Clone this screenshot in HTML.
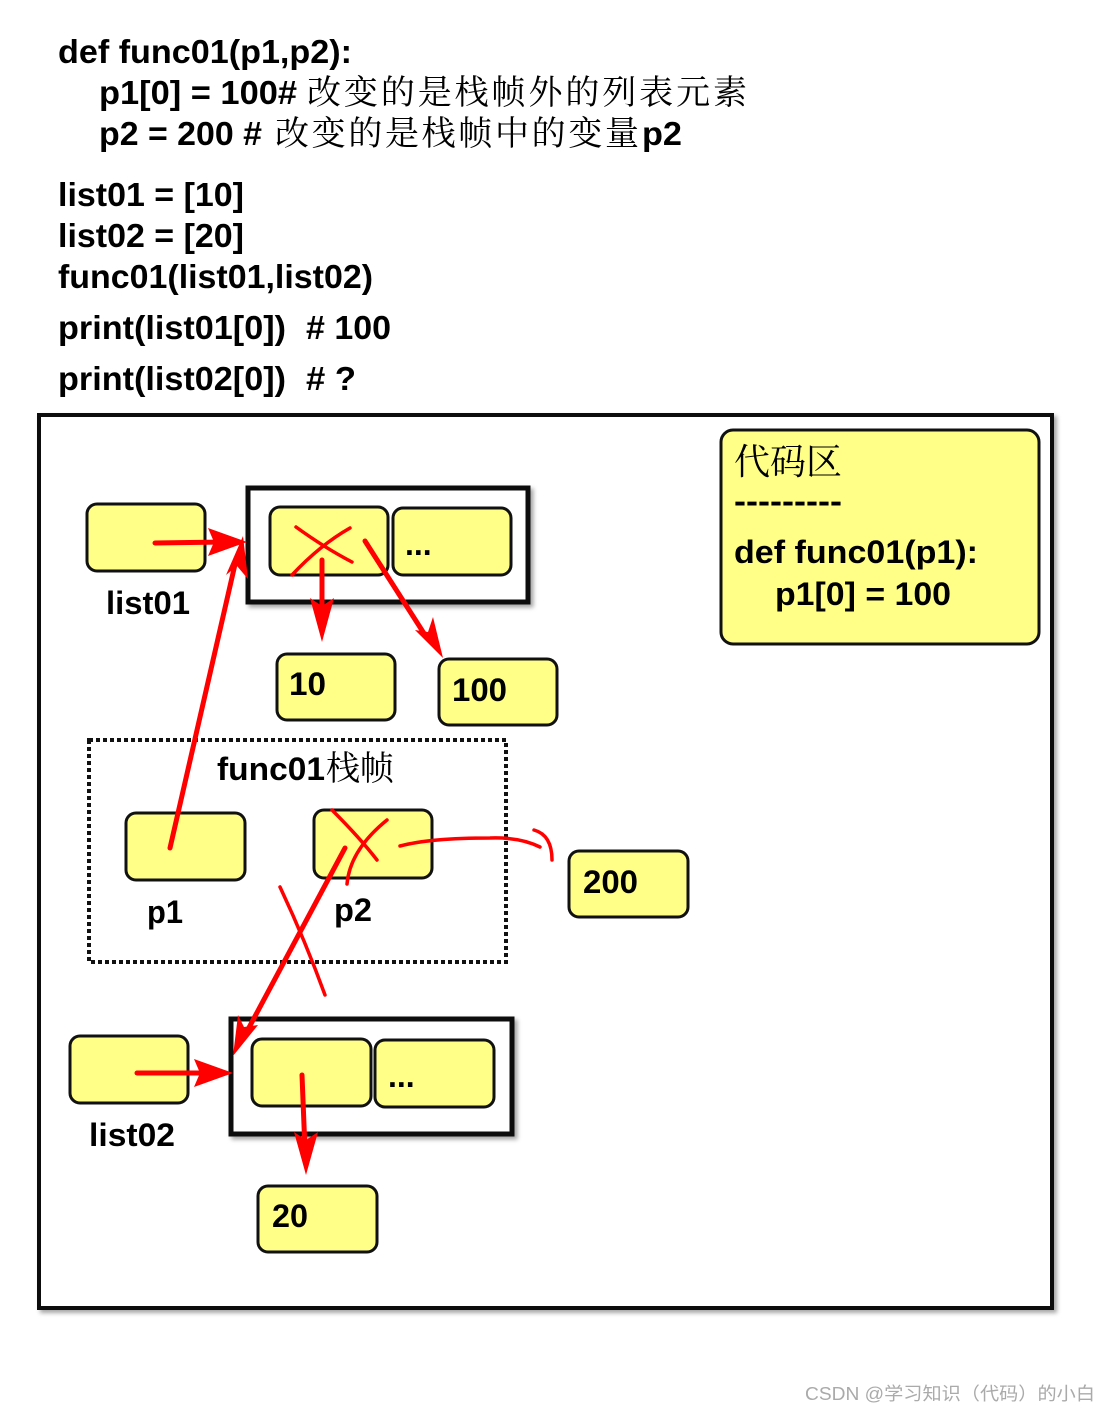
<!DOCTYPE html>
<html><head><meta charset="utf-8"><style>
html,body{margin:0;padding:0;background:#fff;}
svg{display:block;}
.b{font-family:"Liberation Sans",sans-serif;font-weight:bold;fill:#000;}
.c{font-family:"Liberation Serif","Noto Serif CJK SC",serif;font-weight:normal;fill:#000;}
</style></head><body>
<svg width="1109" height="1413" viewBox="0 0 1109 1413" xmlns="http://www.w3.org/2000/svg">
<defs>
<filter id="sh" x="-10%" y="-10%" width="130%" height="130%"><feDropShadow dx="3" dy="3" stdDeviation="2" flood-color="#000" flood-opacity="0.35"/></filter>
</defs>
<g font-size="33">
<text class="b" x="58" y="63" textLength="294" lengthAdjust="spacingAndGlyphs">def func01(p1,p2):</text>
<text class="b" x="99" y="104" textLength="198" lengthAdjust="spacingAndGlyphs">p1[0] = 100#</text>
<text class="c" x="307" y="104" font-size="34" textLength="440" lengthAdjust="spacing">改变的是栈帧外的列表元素</text>
<text class="b" x="99" y="145" textLength="163" lengthAdjust="spacingAndGlyphs">p2 = 200 #</text>
<text class="c" x="275" y="145" font-size="34" textLength="364" lengthAdjust="spacing">改变的是栈帧中的变量</text>
<text class="b" x="642" y="145" textLength="40" lengthAdjust="spacingAndGlyphs">p2</text>
<text class="b" x="58" y="206" textLength="186" lengthAdjust="spacingAndGlyphs">list01 = [10]</text>
<text class="b" x="58" y="247" textLength="186" lengthAdjust="spacingAndGlyphs">list02 = [20]</text>
<text class="b" x="58" y="288" textLength="315" lengthAdjust="spacingAndGlyphs">func01(list01,list02)</text>
<text class="b" x="58" y="339" textLength="228" lengthAdjust="spacingAndGlyphs">print(list01[0])</text>
<text class="b" x="306" y="339" textLength="85" lengthAdjust="spacingAndGlyphs"># 100</text>
<text class="b" x="58" y="390" textLength="228" lengthAdjust="spacingAndGlyphs">print(list02[0])</text>
<text class="b" x="306" y="390" textLength="50" lengthAdjust="spacingAndGlyphs"># ?</text>
</g>
<rect x="39" y="415" width="1013" height="893" fill="#fff" stroke="#111" stroke-width="4" filter="url(#sh)"/>
<rect x="721" y="430" width="318" height="214" rx="12" fill="#ffff88" stroke="#111" stroke-width="3"/>
<text class="c" x="734" y="474" font-size="36">代码区</text>
<text class="b" x="734" y="512" font-size="32" textLength="108" lengthAdjust="spacingAndGlyphs">---------</text>
<text class="b" x="734" y="563" font-size="32" textLength="244" lengthAdjust="spacingAndGlyphs">def func01(p1):</text>
<text class="b" x="775" y="605" font-size="32" textLength="176" lengthAdjust="spacingAndGlyphs">p1[0] = 100</text>
<g fill="#ffff88" stroke="#111" stroke-width="3">
<rect x="248" y="488" width="280" height="114" fill="#fff" stroke-width="5" filter="url(#sh)"/>
<rect x="231" y="1019" width="281" height="115" fill="#fff" stroke-width="5" filter="url(#sh)"/>
<rect x="87" y="504" width="118" height="67" rx="10"/>
<rect x="270" y="507" width="118" height="68" rx="10"/>
<rect x="393" y="508" width="118" height="67" rx="10"/>
<rect x="277" y="654" width="118" height="66" rx="10"/>
<rect x="439" y="659" width="118" height="66" rx="10"/>
<rect x="126" y="813" width="119" height="67" rx="10"/>
<rect x="314" y="810" width="118" height="68" rx="10"/>
<rect x="569" y="851" width="119" height="66" rx="10"/>
<rect x="70" y="1036" width="118" height="67" rx="10"/>
<rect x="252" y="1039" width="119" height="67" rx="10"/>
<rect x="375" y="1040" width="119" height="67" rx="10"/>
<rect x="258" y="1186" width="119" height="66" rx="10"/>
</g>
<rect x="89" y="740" width="417" height="222" fill="none" stroke="#111" stroke-width="4" stroke-dasharray="4,3"/>
<g class="b" font-size="32">
<text x="405" y="555">...</text>
<text x="388" y="1087">...</text>
<text x="106" y="614" textLength="84" lengthAdjust="spacingAndGlyphs">list01</text>
<text x="89" y="1146" textLength="86" lengthAdjust="spacingAndGlyphs">list02</text>
<text x="289" y="695" textLength="37" lengthAdjust="spacingAndGlyphs">10</text>
<text x="452" y="701" textLength="55" lengthAdjust="spacingAndGlyphs">100</text>
<text x="583" y="893" textLength="55" lengthAdjust="spacingAndGlyphs">200</text>
<text x="272" y="1227" textLength="36" lengthAdjust="spacingAndGlyphs">20</text>
<text x="147" y="923" textLength="36" lengthAdjust="spacingAndGlyphs">p1</text>
<text x="334" y="921" textLength="38" lengthAdjust="spacingAndGlyphs">p2</text>
<text x="217" y="780" textLength="108" lengthAdjust="spacingAndGlyphs">func01</text>
</g>
<text class="c" x="326" y="780" font-size="34">栈帧</text>
<g stroke="#f00" stroke-width="5" fill="none" stroke-linecap="round">
<line x1="155" y1="543" x2="225" y2="542"/>
<line x1="170" y1="848" x2="236" y2="560"/>
<line x1="322" y1="560" x2="322" y2="615"/>
<line x1="365" y1="541" x2="425" y2="635"/>
<line x1="137" y1="1073" x2="210" y2="1073"/>
<line x1="302" y1="1075" x2="305" y2="1150"/>
<line x1="345" y1="848" x2="245" y2="1035"/>
<g stroke-width="3.5">
<path d="M296 527 Q325 548 352 562"/>
<path d="M292 575 Q320 545 350 528"/>
<path d="M332 810 Q360 838 377 860"/>
<path d="M347 884 Q350 850 387 820"/>
<path d="M400 846 Q430 838 490 838 Q520 837 540 847"/>
<path d="M534 830 Q552 835 552 860"/>
<path d="M280 887 Q305 940 325 995"/>
</g>
</g>
<g fill="#f00">
<polygon points="247,542 208,528 214,542 208,556"/>
<polygon points="243,536 226,575 237,566 248,579"/>
<polygon points="322,642 310,598 322,606 334,598"/>
<polygon points="443,658 415,630 428,632 433,617"/>
<polygon points="233,1073 194,1059 200,1073 194,1087"/>
<polygon points="306,1175 294,1132 306,1140 318,1132"/>
<polygon points="233,1056 238,1015 244,1027 258,1025"/>
</g>
<text x="805" y="1400" font-family="Liberation Sans,'Noto Sans CJK SC',sans-serif" font-size="18" fill="#aaa" textLength="290" lengthAdjust="spacingAndGlyphs">CSDN @学习知识（代码）的小白</text>
</svg>
</body></html>
